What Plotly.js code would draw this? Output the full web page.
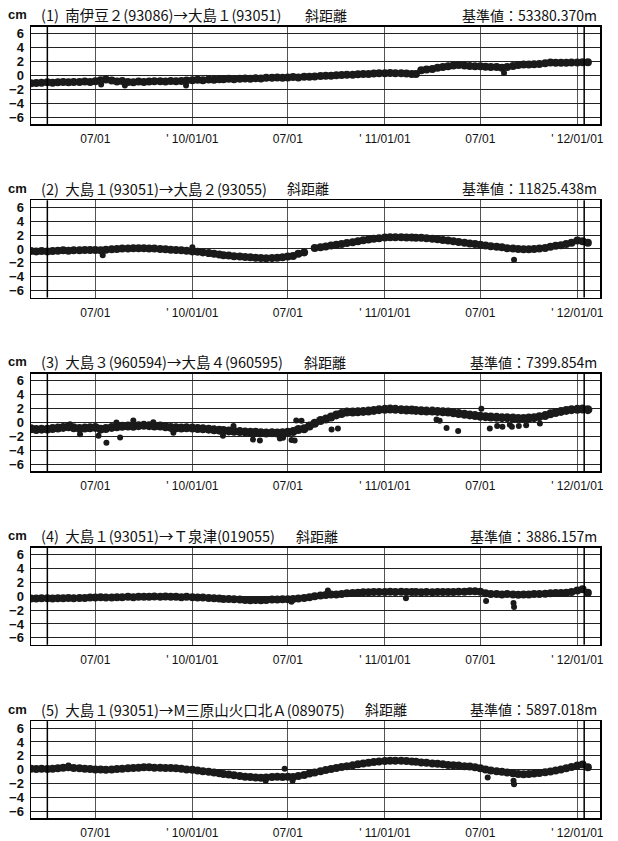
<!DOCTYPE html>
<html><head><meta charset="utf-8">
<script src="https://cdn.plot.ly/plotly-3.0.1.min.js"></script>
<style>html,body{margin:0;padding:0;background:#fff}#chart{width:618px;height:841px}</style>
</head><body><div id="chart"></div>
<script>
// ---------------- DATA ----------------
const DATES = [
"2009-03-01","2009-03-11","2009-03-21","2009-04-01","2009-04-11","2009-04-21","2009-05-01","2009-05-11","2009-05-21",
"2009-06-01","2009-06-11","2009-06-21","2009-07-01","2009-07-11","2009-07-21","2009-08-01","2009-08-11","2009-08-21",
"2009-09-01","2009-09-11","2009-09-21","2009-10-01","2009-10-11","2009-10-21","2009-11-01","2009-11-11","2009-11-21",
"2009-12-01","2009-12-11","2009-12-21",
"2010-01-01","2010-01-11","2010-01-21","2010-02-01","2010-02-11","2010-02-21","2010-03-01","2010-03-11","2010-03-21",
"2010-04-01","2010-04-11","2010-04-21","2010-05-01","2010-05-11","2010-05-21","2010-06-01","2010-06-11","2010-06-21",
"2010-07-01","2010-07-11","2010-07-21","2010-08-01","2010-08-11","2010-08-21","2010-09-01","2010-09-11","2010-09-21",
"2010-10-01","2010-10-11","2010-10-21","2010-11-01","2010-11-11","2010-11-21","2010-12-01","2010-12-11","2010-12-21",
"2011-01-01","2011-01-11","2011-01-21","2011-02-01","2011-02-11","2011-02-21","2011-03-01","2011-03-11","2011-03-21",
"2011-04-01","2011-04-11","2011-04-21","2011-05-01","2011-05-11","2011-05-21","2011-06-01","2011-06-11","2011-06-21",
"2011-07-01","2011-07-11","2011-07-21","2011-08-01","2011-08-11","2011-08-21","2011-09-01","2011-09-11","2011-09-21",
"2011-10-01","2011-10-11","2011-10-21","2011-11-01","2011-11-11","2011-11-21","2011-12-01","2011-12-11","2011-12-21",
"2012-01-01","2012-01-11","2012-01-21"];

const P1 = [
-1.15,-1.1,-1.05, -1.0,-1.05,-1.0, -0.95,-1.0,-0.95, -0.95,-0.9,-0.95, -0.85,-0.7,-0.6, -0.75,-0.9,-0.8,
-0.95,-1.0,-0.9, -0.95,-0.9,-0.85, -0.85,-0.9,-0.8, -0.85,-0.8,-0.75,
-0.7,-0.65,-0.7, -0.6,-0.65,-0.55, -0.55,-0.5,-0.55, -0.5,-0.45,-0.5, -0.4,-0.45,-0.35, -0.35,-0.3,-0.35,
-0.3,-0.25,-0.3, -0.2,-0.2,-0.15, -0.1,-0.05,-0.05, 0.0,0.05,0.1, 0.1,0.15,0.2, 0.2,0.25,0.3,
0.3,0.35,0.3, 0.3,0.25,0.2, 0.2,0.75,0.85, 0.9,1.1,1.2, 1.3,1.4,1.5, 1.4,1.35,1.3,
1.3,1.25,1.2, 1.2,1.1,1.2, 1.35,1.5,1.55, 1.55,1.6,1.65, 1.75,1.85,1.8, 1.8,1.8,1.85,
1.85,1.9,1.9];
const P2 = [
-0.3,-0.35,-0.3, -0.35,-0.3,-0.25, -0.2,-0.25,-0.2, -0.2,-0.15,-0.15, -0.15,-0.2,-0.1, -0.05,0.0,0.05,
0.05,0.1,0.1, 0.1,0.05,0.05, 0.0,-0.05,-0.1, -0.15,-0.2,-0.25,
-0.35,-0.4,-0.5, -0.6,-0.7,-0.8, -0.9,-0.95,-1.05, -1.1,-1.15,-1.2, -1.25,-1.3,-1.35, -1.3,-1.25,-1.2,
-1.1,-1.0,-0.7, -0.5,null,0.15, 0.25,0.35,0.5, 0.6,0.7,0.85, 0.95,1.1,1.25, 1.35,1.45,1.55,
1.65,1.7,1.7, 1.7,1.65,1.65, 1.6,1.6,1.55, 1.45,1.4,1.3, 1.2,1.1,1.0, 0.9,0.8,0.7,
0.6,0.5,0.4, 0.3,0.25,0.1, 0.05,0.0,-0.05, -0.05,0.0,0.05, 0.15,0.3,0.45, 0.55,0.7,0.9,
1.2,1.1,0.9];
const P3 = [
-0.9,-1.0,-0.95, -0.95,-0.85,-0.8, -0.7,-0.6,-0.75, -0.85,-0.8,-0.75, -0.7,-0.95,-0.85, -0.7,-0.6,-0.55,
-0.5,-0.55,-0.45, -0.4,-0.45,-0.5, -0.5,-0.6,-0.7, -0.75,-0.8,-0.75,
-0.8,-0.85,-0.9, -0.95,-1.05,-1.1, -1.15,-1.2,-1.25, -1.3,-1.35,-1.4, -1.4,-1.45,-1.5, -1.45,-1.5,-1.45,
-1.4,-1.3,-1.0, -0.9,-0.5,-0.1, 0.3,0.5,0.8, 1.1,1.3,1.5, 1.5,1.55,1.6, 1.65,1.75,1.85,
1.9,1.95,1.9, 1.85,1.8,1.8, 1.75,1.7,1.65, 1.65,1.6,1.55, 1.5,1.4,1.3, 1.2,1.1,1.0,
0.9,0.85,0.8, 0.75,0.7,0.7, 0.65,0.6,0.6, 0.65,0.7,0.85, 1.0,1.25,1.45, 1.6,1.75,1.85,
1.9,1.95,1.85];
const P4 = [
-0.35,-0.35,-0.3, -0.3,-0.35,-0.3, -0.3,-0.25,-0.3, -0.25,-0.25,-0.2, -0.2,-0.15,-0.2, -0.2,-0.15,-0.15,
-0.1,-0.15,-0.1, -0.1,-0.1,-0.05, -0.1,-0.05,-0.1, -0.1,-0.15,-0.1,
-0.15,-0.2,-0.2, -0.25,-0.3,-0.35, -0.4,-0.4,-0.45, -0.5,-0.55,-0.6, -0.55,-0.6,-0.55, -0.5,-0.5,-0.45,
-0.45,-0.4,-0.35, -0.25,-0.15,0.0, 0.1,0.15,0.25, 0.25,0.3,0.4, 0.45,0.5,0.55, 0.55,0.6,0.6,
0.6,0.65,0.6, 0.65,0.6,0.6, 0.6,0.55,0.6, 0.55,0.6,0.6, 0.6,0.6,0.65, 0.65,0.7,0.7,
0.65,0.4,0.3, 0.3,0.25,0.3, 0.25,0.2,0.25, 0.25,0.3,0.3, 0.35,0.4,0.45, 0.45,0.5,0.6,
0.8,1.0,0.5];
const P5 = [
0.15,0.1,0.15, 0.1,0.15,0.2, 0.3,0.35,0.25, 0.2,0.15,0.1, 0.05,0.05,0.0, 0.05,0.1,0.15,
0.2,0.25,0.3, 0.35,0.35,0.3, 0.3,0.25,0.25, 0.2,0.15,0.05,
0.0,-0.1,-0.2, -0.3,-0.4,-0.5, -0.6,-0.7,-0.8, -0.9,-1.0,-1.05, -1.1,-1.15,-1.1, -1.05,-1.0,-1.05,
-1.0,-1.05,-0.9, -0.75,-0.55,-0.4, -0.2,-0.05,0.1, 0.25,0.4,0.5, 0.65,0.8,0.9, 1.0,1.1,1.2,
1.25,1.3,1.3, 1.3,1.25,1.2, 1.15,1.05,1.0, 0.9,0.85,0.8, 0.7,0.65,0.6, 0.5,0.45,0.35,
0.2,0.05,-0.1, -0.2,-0.3,-0.4, -0.5,-0.6,-0.65, -0.6,-0.55,-0.45, -0.35,-0.25,-0.1, 0.05,0.2,0.4,
0.6,0.75,0.35];

// scattered single days (outliers)
const OUT1_X = ["2009-07-12","2009-08-26","2009-12-20","2011-08-15"];
const OUT1_Y = [-1.3,-1.45,-1.45,0.35];
const OUT2_X = ["2009-07-15","2010-01-01","2011-09-03"];
const OUT2_Y = [-0.9,0.25,-1.55];
const OUT3_X = ["2009-05-14","2009-06-02","2009-07-07","2009-07-22","2009-08-10","2009-08-17","2009-09-11","2009-10-19",
                "2009-11-26","2010-02-28","2010-03-20","2010-04-26","2010-05-09","2010-06-16","2010-06-22","2010-07-08",
                "2010-07-14","2010-07-17","2010-07-27","2010-09-22","2010-10-04","2011-04-09","2011-04-15","2011-04-28",
                "2011-05-20","2011-07-03","2011-07-19","2011-08-02","2011-08-12","2011-08-26","2011-08-30","2011-09-12",
                "2011-09-26","2011-10-22"];
const OUT3_Y = [-0.25,-1.7,-1.9,-2.9,0.0,-2.15,0.3,0.05,
                -1.45,-1.9,-0.5,-2.45,-2.6,-2.3,-2.2,-2.5,
                -2.6,0.3,0.25,-1.0,-0.85,0.45,0.25,-0.8,
                -1.2,2.0,-0.85,-0.5,-0.6,-0.3,-0.6,-0.5,
                -0.4,-0.15];
const OUT4_X = ["2010-07-08","2010-09-15","2011-02-10","2011-07-12","2011-09-02","2011-09-03"];
const OUT4_Y = [-0.8,0.8,-0.3,-0.7,-1.0,-1.55];
const OUT5_X = ["2009-05-11","2010-05-20","2010-06-25","2010-07-10","2011-07-15","2011-09-02","2011-09-03"];
const OUT5_Y = [0.6,-1.6,0.15,-1.6,-1.1,-1.6,-2.1];

const SERIES = [P1,P2,P3,P4,P5];
const OUT_X = [OUT1_X,OUT2_X,OUT3_X,OUT4_X,OUT5_X];
const OUT_Y = [OUT1_Y,OUT2_Y,OUT3_Y,OUT4_Y,OUT5_Y];

const PANEL_NO = ["(1)","(2)","(3)","(4)","(5)"];
const PANEL_NAMES = ["南伊豆２(93086)→大島１(93051)","大島１(93051)→大島２(93055)","大島３(960594)→大島４(960595)",
                     "大島１(93051)→Ｔ泉津(019055)","大島１(93051)→M三原山火口北Ａ(089075)"];
const COMPONENT = "斜距離";
const BASE_LABEL = "基準値：";
const BASE_VALUES = ["53380.370","11825.438","7399.854","3886.157","5897.018"];
const UNIT = "cm";

const TICK_DATES = ["2009-07-01","2010-01-01","2010-07-01","2011-01-01","2011-07-01","2012-01-01"];
const TICK_TEXT = ["07/01","' 10/01/01","07/01","' 11/01/01","07/01","' 12/01/01"];
const Y_TICKS = [-6,-4,-2,0,2,4,6];
const MARK_DATES = ["2009-04-01","2012-01-14"];
const X_RANGE = ["2009-03-01","2012-02-13"];
const Y_RANGE = [-7,7];

// ---------------- LAYOUT ----------------
const W = 618, H = 841, L = 31, R = 600;
const TOP0 = 26.7, STEP = 173.6, PH = 97.3;
const SLANT_PX = [303,285,302,294,363];
const BAND_SIZE = [8,8,9,8,8];
const NARROW = "Liberation Sans Narrow, Arial Narrow, Liberation Sans, Arial, sans-serif";
const JP = "Noto Sans CJK JP, sans-serif";
const px2x = p => (p - L) / (R - L);
const px2y = p => 1 - p / H;

const traces = [];
const layout = {
  width: W, height: H, showlegend: false,
  margin: {l: L, r: W - R, t: 0, b: 0, pad: 0},
  paper_bgcolor: "#fff", plot_bgcolor: "#fff",
  annotations: [], shapes: []
};

for (let i = 0; i < 5; i++) {
  const n = i === 0 ? "" : String(i + 1);
  const top = TOP0 + STEP * i, bot = top + PH;
  const xa = "x" + n, ya = "y" + n;
  traces.push({
    type: "scatter", mode: "markers", x: DATES, y: SERIES[i], xaxis: xa, yaxis: ya,
    marker: {size: BAND_SIZE[i], color: "#1a1a1a"}, hoverinfo: "skip"
  });
  traces.push({
    type: "scatter", mode: "markers", x: OUT_X[i], y: OUT_Y[i], xaxis: xa, yaxis: ya,
    marker: {size: 6, color: "#1a1a1a"}, hoverinfo: "skip"
  });
  layout["xaxis" + n] = {
    type: "date", range: X_RANGE, domain: [0, 1], anchor: ya,
    tickmode: "array", tickvals: TICK_DATES, ticktext: TICK_TEXT, ticks: "",
    showgrid: true, gridcolor: "#555", gridwidth: 1,
    showline: true, linecolor: "#000", linewidth: 1.5, mirror: true,
    zeroline: false, ticklabelstandoff: 3,
    tickfont: {family: NARROW, size: 12, color: "#111"}
  };
  layout["yaxis" + n] = {
    range: Y_RANGE, domain: [px2y(bot), px2y(top)], anchor: xa,
    tickmode: "array", tickvals: Y_TICKS, ticks: "",
    showgrid: true, gridcolor: "#222", gridwidth: 1,
    showline: true, linecolor: "#000", linewidth: 1.5, mirror: true,
    zeroline: false, ticklabelstandoff: 3,
    tickfont: {family: NARROW, size: 13, color: "#111", weight: "bold"}
  };
  MARK_DATES.forEach(d => layout.shapes.push({
    type: "line", xref: xa, yref: ya + " domain", x0: d, x1: d, y0: 0, y1: 1,
    line: {color: "#000", width: 1.5}
  }));
  const ty = px2y(top - 12);
  layout.annotations.push(
    {xref: "paper", yref: "paper", x: px2x(6), y: ty, xanchor: "left", yanchor: "middle", showarrow: false,
     text: "<b>" + UNIT + "</b>", font: {family: NARROW, size: 13, color: "#111"}},
    {xref: "paper", yref: "paper", x: px2x(39), y: ty, xanchor: "left", yanchor: "middle", showarrow: false,
     text: PANEL_NO[i] + "  " + PANEL_NAMES[i], font: {family: JP, size: 14.5, color: "#111"}},
    {xref: "paper", yref: "paper", x: px2x(SLANT_PX[i]), y: ty, xanchor: "left", yanchor: "middle", showarrow: false,
     text: COMPONENT, font: {family: JP, size: 14, color: "#111"}},
    {xref: "paper", yref: "paper", x: px2x(599), y: ty, xanchor: "right", yanchor: "middle", showarrow: false,
     text: BASE_LABEL + BASE_VALUES[i] + "m", font: {family: JP, size: 14, color: "#111"}}
  );
}

Plotly.newPlot("chart", traces, layout, {staticPlot: true, displayModeBar: false});
</script>
</body></html>
